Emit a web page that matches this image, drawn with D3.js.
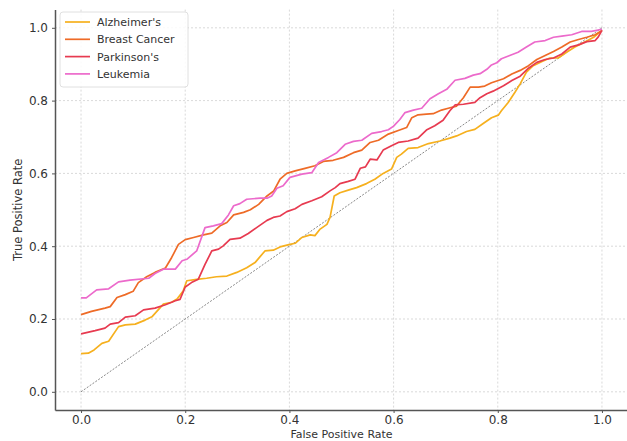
<!DOCTYPE html>
<html>
<head>
<meta charset="utf-8">
<script src="https://cdn.jsdelivr.net/npm/d3@7"></script>
<style>
  body { margin: 0; background: #fff; }
  text { font-family: "DejaVu Sans", sans-serif; }
</style>
</head>
<body>
<svg id="chart" width="627" height="441"></svg>
<script>
// ROC points, [fpr, tpr]
const alzheimers = [[0,0.105],[0.014,0.106],[0.025,0.115],[0.04,0.133],[0.053,0.139],[0.072,0.179],[0.085,0.184],[0.104,0.186],[0.123,0.197],[0.136,0.206],[0.158,0.241],[0.174,0.246],[0.185,0.256],[0.196,0.277],[0.203,0.305],[0.222,0.309],[0.241,0.312],[0.26,0.316],[0.28,0.318],[0.299,0.328],[0.318,0.341],[0.334,0.355],[0.353,0.387],[0.369,0.389],[0.382,0.398],[0.401,0.405],[0.411,0.408],[0.424,0.424],[0.44,0.431],[0.449,0.429],[0.459,0.447],[0.472,0.46],[0.478,0.479],[0.486,0.538],[0.497,0.547],[0.513,0.554],[0.529,0.561],[0.548,0.572],[0.564,0.584],[0.58,0.6],[0.596,0.612],[0.606,0.644],[0.615,0.653],[0.628,0.669],[0.647,0.671],[0.667,0.682],[0.689,0.689],[0.708,0.697],[0.721,0.703],[0.74,0.715],[0.756,0.721],[0.772,0.737],[0.788,0.753],[0.801,0.76],[0.807,0.772],[0.82,0.795],[0.833,0.823],[0.843,0.846],[0.855,0.878],[0.868,0.896],[0.884,0.907],[0.9,0.917],[0.916,0.917],[0.932,0.933],[0.948,0.947],[0.968,0.962],[0.984,0.974],[1.0,0.993]];
const breastCancer = [[0,0.212],[0.02,0.221],[0.046,0.23],[0.056,0.234],[0.069,0.259],[0.085,0.267],[0.1,0.276],[0.11,0.3],[0.126,0.316],[0.142,0.328],[0.162,0.34],[0.174,0.369],[0.187,0.405],[0.2,0.418],[0.216,0.424],[0.235,0.431],[0.251,0.436],[0.267,0.456],[0.28,0.465],[0.293,0.486],[0.312,0.493],[0.325,0.5],[0.341,0.515],[0.357,0.538],[0.37,0.552],[0.382,0.584],[0.395,0.6],[0.411,0.607],[0.43,0.614],[0.449,0.621],[0.465,0.633],[0.484,0.636],[0.504,0.644],[0.523,0.657],[0.539,0.664],[0.555,0.685],[0.571,0.691],[0.59,0.708],[0.609,0.718],[0.625,0.726],[0.635,0.753],[0.647,0.761],[0.663,0.763],[0.676,0.764],[0.692,0.774],[0.705,0.779],[0.721,0.785],[0.734,0.808],[0.747,0.837],[0.763,0.837],[0.775,0.84],[0.788,0.849],[0.811,0.86],[0.827,0.873],[0.843,0.883],[0.859,0.896],[0.875,0.913],[0.891,0.924],[0.907,0.935],[0.923,0.947],[0.939,0.961],[0.955,0.968],[0.971,0.974],[0.987,0.981],[1.0,0.993]];
const parkinsons = [[0,0.159],[0.027,0.168],[0.046,0.175],[0.056,0.186],[0.072,0.19],[0.085,0.205],[0.104,0.209],[0.12,0.225],[0.142,0.23],[0.162,0.239],[0.181,0.25],[0.19,0.254],[0.2,0.288],[0.212,0.3],[0.225,0.309],[0.238,0.35],[0.251,0.387],[0.264,0.392],[0.273,0.401],[0.286,0.419],[0.305,0.422],[0.321,0.435],[0.337,0.451],[0.357,0.471],[0.369,0.479],[0.382,0.483],[0.395,0.495],[0.411,0.503],[0.424,0.515],[0.443,0.525],[0.462,0.536],[0.478,0.552],[0.488,0.561],[0.497,0.572],[0.513,0.578],[0.526,0.584],[0.536,0.614],[0.546,0.618],[0.555,0.639],[0.568,0.637],[0.58,0.664],[0.596,0.676],[0.609,0.685],[0.628,0.689],[0.647,0.697],[0.663,0.719],[0.679,0.731],[0.695,0.746],[0.708,0.772],[0.718,0.788],[0.734,0.79],[0.756,0.795],[0.766,0.808],[0.779,0.819],[0.791,0.826],[0.811,0.841],[0.827,0.855],[0.843,0.867],[0.859,0.889],[0.875,0.905],[0.891,0.913],[0.907,0.917],[0.923,0.928],[0.939,0.947],[0.955,0.953],[0.971,0.962],[0.987,0.965],[0.993,0.975],[1.0,0.993]];
const leukemia = [[0,0.258],[0.01,0.258],[0.03,0.28],[0.053,0.283],[0.072,0.302],[0.094,0.307],[0.13,0.312],[0.142,0.325],[0.158,0.337],[0.181,0.337],[0.194,0.36],[0.203,0.364],[0.222,0.387],[0.238,0.451],[0.254,0.456],[0.27,0.462],[0.283,0.486],[0.293,0.511],[0.305,0.517],[0.318,0.529],[0.344,0.532],[0.357,0.532],[0.366,0.538],[0.376,0.559],[0.388,0.566],[0.401,0.589],[0.424,0.598],[0.443,0.602],[0.456,0.63],[0.475,0.644],[0.491,0.657],[0.507,0.68],[0.523,0.688],[0.539,0.691],[0.558,0.71],[0.577,0.715],[0.59,0.72],[0.6,0.73],[0.612,0.748],[0.622,0.767],[0.638,0.774],[0.654,0.779],[0.67,0.805],[0.686,0.819],[0.702,0.831],[0.718,0.856],[0.737,0.861],[0.753,0.87],[0.766,0.874],[0.779,0.886],[0.788,0.898],[0.798,0.904],[0.807,0.915],[0.823,0.924],[0.839,0.933],[0.855,0.947],[0.871,0.961],[0.891,0.965],[0.907,0.974],[0.923,0.977],[0.942,0.981],[0.961,0.99],[0.98,0.99],[1.0,0.996]];

const seriesNames = ["Alzheimer's", "Breast Cancer", "Parkinson's", "Leukemia"];
const seriesData = [alzheimers, breastCancer, parkinsons, leukemia];
const colors = ["#f6b01e", "#ee6b27", "#e73a50", "#ec6acb"];
const ticks = [0, 0.2, 0.4, 0.6, 0.8, 1.0];

const svg = d3.select("#chart");
const plotLeft = 55, plotRight = 628, plotTop = 9.6, plotBottom = 410;

const x = d3.scaleLinear().domain([-0.05, 1.05]).range([plotLeft, plotRight]);
const y = d3.scaleLinear().domain([-0.05, 1.05]).range([plotBottom, plotTop]);

// grid
svg.append("g").selectAll("line").data(ticks).join("line")
  .attr("x1", d => x(d)).attr("x2", d => x(d))
  .attr("y1", plotTop).attr("y2", plotBottom)
  .attr("stroke", "#cfcfcf").attr("stroke-width", 0.8).attr("stroke-dasharray", "2,2");
svg.append("g").selectAll("line").data(ticks).join("line")
  .attr("x1", plotLeft).attr("x2", plotRight)
  .attr("y1", d => y(d)).attr("y2", d => y(d))
  .attr("stroke", "#cfcfcf").attr("stroke-width", 0.8).attr("stroke-dasharray", "2,2");

// diagonal chance line
svg.append("line")
  .attr("x1", x(0)).attr("y1", y(0)).attr("x2", x(1)).attr("y2", y(1))
  .attr("stroke", "#555").attr("stroke-width", 0.7).attr("stroke-dasharray", "2,1.5");

const line = d3.line().x(d => x(d[0])).y(d => y(d[1]));
seriesData.forEach((s, i) => {
  svg.append("path").datum(s)
    .attr("d", line)
    .attr("fill", "none")
    .attr("stroke", colors[i])
    .attr("stroke-width", 1.7)
    .attr("stroke-linejoin", "round");
});

// axes
const fmt = d3.format(".1f");
const xAxis = svg.append("g").attr("transform", `translate(0,${plotBottom})`)
  .call(d3.axisBottom(x).tickValues(ticks).tickFormat(fmt).tickSize(3).tickSizeOuter(0).tickPadding(2));
const yAxis = svg.append("g").attr("transform", `translate(${plotLeft},0)`)
  .call(d3.axisLeft(y).tickValues(ticks).tickFormat(fmt).tickSize(3).tickSizeOuter(0).tickPadding(4));
[xAxis, yAxis].forEach(a => {
  a.select(".domain").attr("stroke", "#555").attr("stroke-width", 1.5);
  a.selectAll(".tick line").attr("stroke", "#555");
  a.selectAll(".tick text").attr("fill", "#333").style("font-size", "12px")
    .style("font-family", "DejaVu Sans, sans-serif");
});

// axis labels
svg.append("text").attr("x", x(0.5)).attr("y", 437.5)
  .attr("text-anchor", "middle").attr("fill", "#333").style("font-size", "11px")
  .text("False Positive Rate");
svg.append("text").attr("transform", `translate(22,${y(0.5)}) rotate(-90)`)
  .attr("text-anchor", "middle").attr("fill", "#333").style("font-size", "11.5px")
  .text("True Positive Rate");

// legend
const legend = svg.append("g").attr("transform", "translate(60,12)");
legend.append("rect").attr("width", 128).attr("height", 75).attr("rx", 3)
  .attr("fill", "#fff").attr("fill-opacity", 0.85)
  .attr("stroke", "#d8d8d8").attr("stroke-width", 0.8);
seriesNames.forEach((n, i) => {
  const g = legend.append("g").attr("transform", `translate(0,${10 + i * 17.3})`);
  g.append("line").attr("x1", 5).attr("x2", 30).attr("y1", 0).attr("y2", 0)
    .attr("stroke", colors[i]).attr("stroke-width", 1.7);
  g.append("text").attr("x", 37).attr("y", 4).attr("fill", "#333")
    .style("font-size", "11px").text(n);
});
</script>
</body>
</html>
